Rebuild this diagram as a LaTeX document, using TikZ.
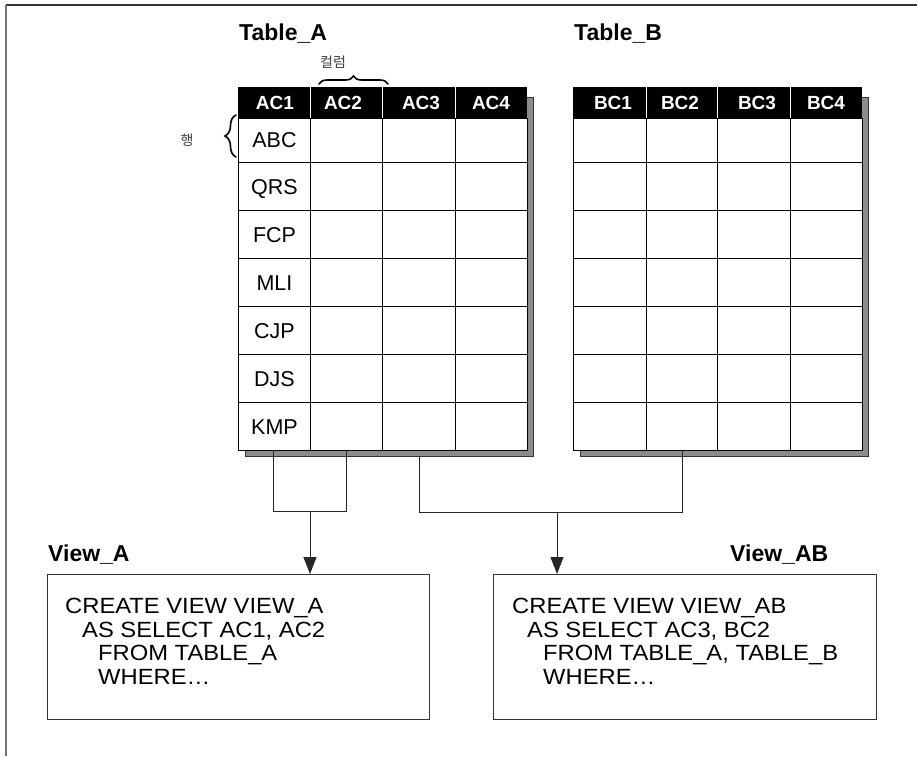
\documentclass[tikz,border=0pt]{standalone}
\usepackage{fontspec}
\setmainfont{Liberation Sans}
\newfontfamily\krfont{Noto Sans CJK KR}
\newfontfamily\sqlfont{Liberation Sans}[FakeStretch=1.08]
\usetikzlibrary{arrows.meta,decorations.pathreplacing,calc}

\begin{document}
\begin{tikzpicture}[x=1pt,y=-1pt,
  gridline/.style={draw=black,line width=1pt},
  shadebox/.style={fill=black!45,draw=black!80,line width=0.8pt},
  hdrbar/.style={fill=black},
  hdrsep/.style={draw=white,line width=0.8pt},
  hdr/.style={text=white,font=\bfseries\fontsize{19}{19}\selectfont,anchor=base,inner sep=0pt},
  cell/.style={font=\fontsize{21.5}{21.5}\selectfont,anchor=base,inner sep=0pt},
  title/.style={font=\bfseries\fontsize{23}{23}\selectfont,anchor=base west,inner sep=0pt},
  link/.style={draw=black!85,line width=1pt},
  arr/.style={link,-{Triangle[length=17pt,width=13pt]}},
  viewbox/.style={draw=black!80,line width=1pt,fill=white,anchor=north west,inner sep=0pt},
  sql/.style={font=\sqlfont\fontsize{22}{23.7}\selectfont,anchor=base west,inner sep=0pt},
  note/.style={font=\krfont\fontsize{14}{14}\selectfont,text=black!75,inner sep=0pt},
  bracedeco/.style={decorate,line width=1.6pt,line cap=round}]

\useasboundingbox (0,0) rectangle (917,756);

% outer frame (top and left edges)
\draw[black!80,line width=1.6pt] (6,5) -- (917,5);
\draw[black!55,line width=1.6pt] (6,5) -- (6,756);

% ---------- Table_A ----------
\filldraw[shadebox] (245,97) rectangle (533,456);
\fill[hdrbar] (238,87) rectangle (527,118);
\foreach \x in {310.5,382,455} \draw[hdrsep] (\x,87) -- (\x,118);
\draw[gridline,fill=white] (238,118) rectangle (527,450);
\foreach \x in {310.5,382,455} \draw[gridline] (\x,118) -- (\x,450);
\foreach \y in {162.5,210.5,258.5,306.5,354.5,402.5} \draw[gridline] (238,\y) -- (527,\y);

\node[hdr] (hac1) at (275,109) {AC1};
\node[hdr] (hac2) at (343,109) {AC2};
\node[hdr] (hac3) at (421,109) {AC3};
\node[hdr] (hac4) at (491,109) {AC4};

\node[cell] (r1) at (274.5,147.8) {ABC};
\node[cell] (r2) at (274.5,194) {QRS};
\node[cell] (r3) at (274.5,242) {FCP};
\node[cell] (r4) at (274.5,290) {MLI};
\node[cell] (r5) at (274.5,338) {CJP};
\node[cell] (r6) at (274.5,386) {DJS};
\node[cell] (r7) at (274.5,434) {KMP};

\node[title] (ta) at (239,40.5) {Table\_A};

% column and row braces
\draw[bracedeco,decoration={brace,amplitude=8pt}] (319,84) -- (388,84);
\node[note] (colnote) at (333,62) {컬럼};
\draw[bracedeco,decoration={brace,amplitude=11pt}] (236,157) -- (236,115);
\node[note] (rownote) at (187,140) {행};

% ---------- Table_B ----------
\filldraw[shadebox] (580,97) rectangle (868,456);
\fill[hdrbar] (573,87) rectangle (862,118);
\foreach \x in {646,717,790} \draw[hdrsep] (\x,87) -- (\x,118);
\draw[gridline,fill=white] (573,118) rectangle (862,450);
\foreach \x in {646,717,790} \draw[gridline] (\x,118) -- (\x,450);
\foreach \y in {162.5,210.5,258.5,306.5,354.5,402.5} \draw[gridline] (573,\y) -- (862,\y);

\node[hdr] (hbc1) at (613,109) {BC1};
\node[hdr] (hbc2) at (680,109) {BC2};
\node[hdr] (hbc3) at (757,109) {BC3};
\node[hdr] (hbc4) at (826,109) {BC4};

\node[title] (tb) at (574,40.5) {Table\_B};

% ---------- views ----------
\node[viewbox,minimum width=382pt,minimum height=145pt] (va) at (47,574) {};
\node[viewbox,minimum width=383pt,minimum height=145pt] (vb) at (493,574) {};

\node[title] (tva) at (48,561.5) {View\_A};
\node[title] (tvb) at (730,561.5) {View\_AB};

\node[sql] (sa1) at (65,613) {CREATE VIEW VIEW\_A};
\node[sql] (sa2) at (82,637) {AS SELECT AC1, AC2};
\node[sql] (sa3) at (98,660.5) {FROM TABLE\_A};
\node[sql] (sa4) at (98,684) {WHERE\dots};

\node[sql] (sb1) at (512,613) {CREATE VIEW VIEW\_AB};
\node[sql] (sb2) at (527,637) {AS SELECT AC3, BC2};
\node[sql] (sb3) at (543,660.5) {FROM TABLE\_A, TABLE\_B};
\node[sql] (sb4) at (543,684) {WHERE\dots};

% ---------- connectors ----------
\coordinate (ac1b) at (273,450);
\coordinate (ac2b) at (346,450);
\coordinate (ac3b) at (419,456);
\coordinate (bc2b) at (682,450);
\coordinate (ja) at (310,511);
\coordinate (jb) at (557,512);

\draw[link] (ac1b) |- (ja) -| (ac2b);
\draw[link] (ac3b) |- (jb) -| (bc2b);
\draw[arr] (ja) -- (va.north -| ja);
\draw[arr] (jb) -- (vb.north -| jb);

\end{tikzpicture}
\end{document}
